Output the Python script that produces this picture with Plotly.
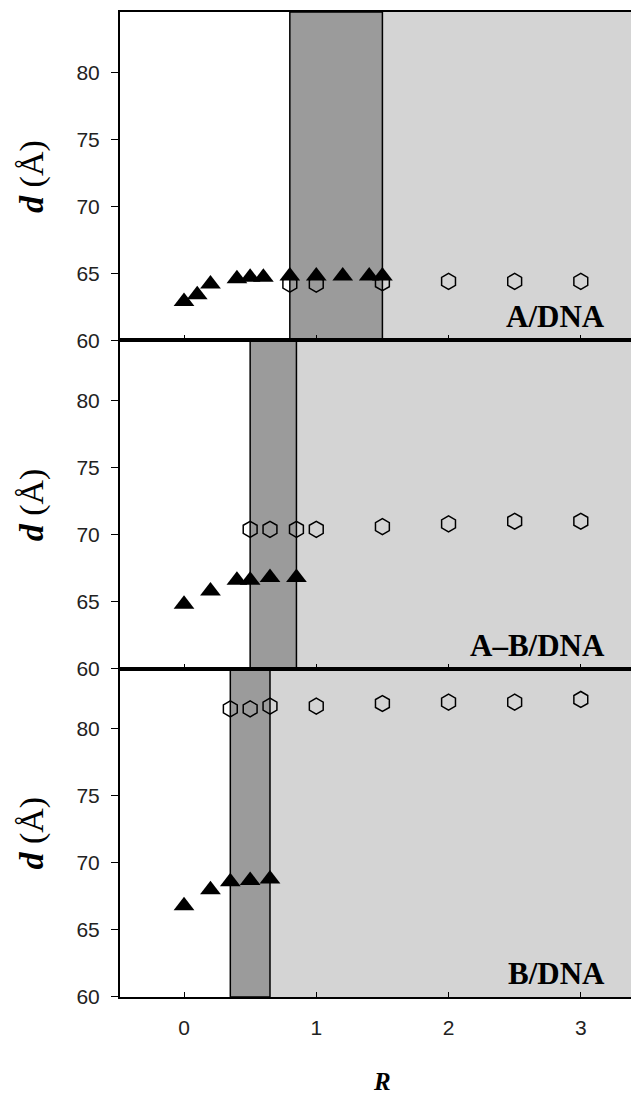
import plotly.graph_objects as go
from plotly.subplots import make_subplots

# ---------------- data ----------------
panel_names = ["A/DNA", "A\u2013B/DNA", "B/DNA"]

# filled triangles
tri_R_A = [0, 0.1, 0.2, 0.4, 0.5, 0.6, 0.8, 1.0, 1.2, 1.4, 1.5]
tri_d_A = [62.9, 63.4, 64.2, 64.6, 64.7, 64.7, 64.8, 64.8, 64.8, 64.8, 64.8]
tri_R_AB = [0, 0.2, 0.4, 0.5, 0.65, 0.85]
tri_d_AB = [64.8, 65.8, 66.6, 66.6, 66.8, 66.8]
tri_R_B = [0, 0.2, 0.35, 0.5, 0.65]
tri_d_B = [66.8, 68.0, 68.6, 68.7, 68.8]

# open hexagons
hex_R_A = [0.8, 1.0, 1.5, 2.0, 2.5, 3.0]
hex_d_A = [64.2, 64.2, 64.3, 64.4, 64.4, 64.4]
hex_R_AB = [0.5, 0.65, 0.85, 1.0, 1.5, 2.0, 2.5, 3.0]
hex_d_AB = [70.4, 70.4, 70.4, 70.4, 70.6, 70.8, 71.0, 71.0]
hex_R_B = [0.35, 0.5, 0.65, 1.0, 1.5, 2.0, 2.5, 3.0]
hex_d_B = [81.5, 81.5, 81.7, 81.7, 81.9, 82.0, 82.0, 82.2]

# coexistence band (dark) start / end per panel
band_start = [0.8, 0.5, 0.35]
band_end = [1.5, 0.85, 0.65]

x_ticks = [0, 1, 2, 3]
y_ticks = [60, 65, 70, 75, 80]
x_range = [-0.484, 3.44]
y_range = [60, 84.5]

tri_R = [tri_R_A, tri_R_AB, tri_R_B]
tri_d = [tri_d_A, tri_d_AB, tri_d_B]
hex_R = [hex_R_A, hex_R_AB, hex_R_B]
hex_d = [hex_d_A, hex_d_AB, hex_d_B]

DARK = "#9b9b9b"
LIGHT = "#d4d4d4"

fig = make_subplots(rows=3, cols=1, shared_xaxes=False, vertical_spacing=0)

for i in range(3):
    row = i + 1
    xr = "x" if i == 0 else f"x{i+1}"
    yr = "y" if i == 0 else f"y{i+1}"
    # light region beyond the band
    fig.add_shape(type="rect", xref=xr, yref=f"{yr} domain",
                  x0=band_end[i], x1=x_range[1], y0=0, y1=1,
                  fillcolor=LIGHT, line=dict(width=0), layer="below")
    # dark band
    fig.add_shape(type="rect", xref=xr, yref=f"{yr} domain",
                  x0=band_start[i], x1=band_end[i], y0=0, y1=1,
                  fillcolor=DARK, line=dict(color="black", width=1.5), layer="below")

    fig.add_trace(go.Scatter(x=hex_R[i], y=hex_d[i], mode="markers",
                             marker=dict(symbol="hexagon-open", size=16, color="black",
                                         line=dict(width=1.5, color="black")),
                             showlegend=False), row=row, col=1)
    fig.add_trace(go.Scatter(x=tri_R[i], y=tri_d[i], mode="markers",
                             marker=dict(symbol="triangle-up", size=18, color="black"),
                             showlegend=False), row=row, col=1)

    fig.update_xaxes(range=x_range, tickvals=x_ticks, ticks="inside", ticklen=5,
                     tickcolor="black", showline=True, linecolor="black", linewidth=2,
                     mirror=True, showgrid=False, zeroline=False,
                     showticklabels=(i == 2), ticklabelstandoff=11,
                     tickfont=dict(family="Liberation Sans", size=21, color="#222"),
                     row=row, col=1)
    fig.update_yaxes(range=y_range, tickvals=y_ticks, ticks="outside", ticklen=7,
                     tickcolor="black", showline=True, linecolor="black", linewidth=2,
                     showgrid=False, zeroline=False, ticklabelstandoff=7,
                     tickfont=dict(family="Liberation Sans", size=21, color="#222"),
                     row=row, col=1)

    # panel label
    fig.add_annotation(xref=xr, yref=yr, x=3.2, y=60.3, xanchor="right", yanchor="bottom",
                       text=f"<b>{panel_names[i]}</b>", showarrow=False,
                       font=dict(family="Liberation Serif", size=31, color="black"))
    # y title
    fig.add_annotation(xref="paper", yref=f"{yr} domain", x=-0.17, y=0.5,
                       xanchor="center", yanchor="middle", textangle=-90,
                       text="<b><i>d</i></b> (\u00c5)", showarrow=False,
                       font=dict(family="Liberation Serif", size=34, color="black"))

fig.add_annotation(xref="paper", yref="paper", x=0.505, y=-0.086,
                   xanchor="center", yanchor="middle", text="<b><i>R</i></b>",
                   showarrow=False,
                   font=dict(family="Liberation Serif", size=25, color="black"))

# page body has an 8px default margin, so the figure is sized/offset to compensate
fig.update_layout(width=631, height=1100,
                  margin=dict(l=112, r=0, t=4, b=111),
                  plot_bgcolor="white", paper_bgcolor="white")

fig.write_html("out.html")
